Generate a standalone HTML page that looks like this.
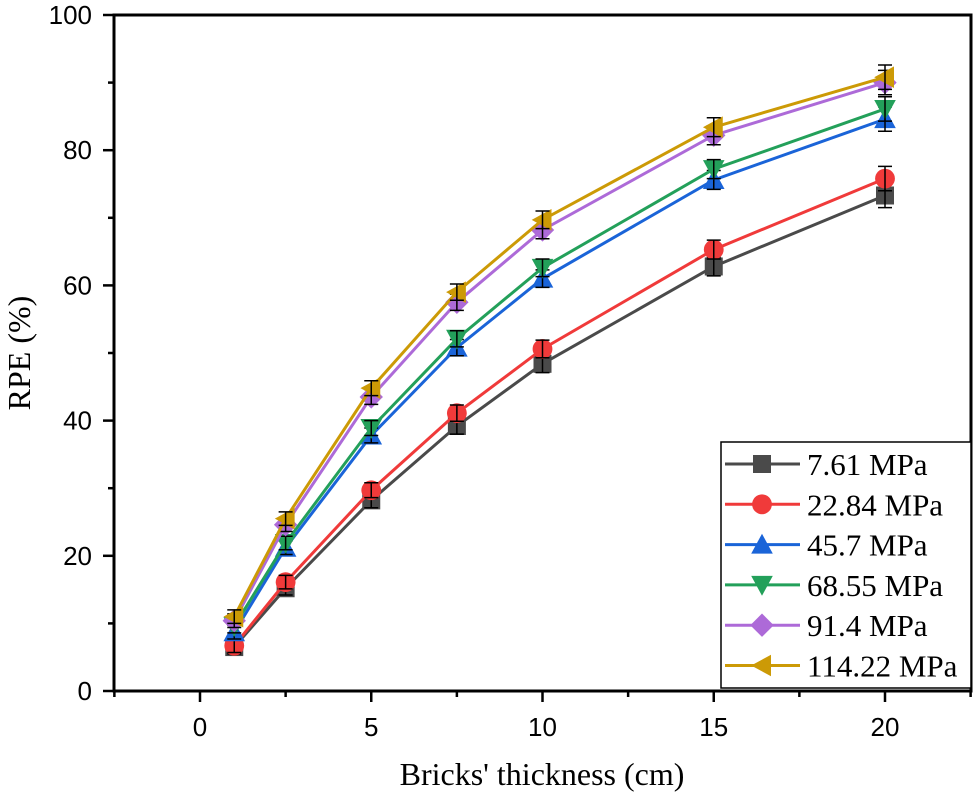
<!DOCTYPE html>
<html><head><meta charset="utf-8"><style>
html,body{margin:0;padding:0;background:#fff;}
svg{display:block;}
</style></head><body>
<svg id="chart" width="975" height="798" xmlns="http://www.w3.org/2000/svg"></svg>
<script>
const xValues=[1,2.5,5,7.5,10,15,20];
const seriesNames=["7.61 MPa","22.84 MPa","45.7 MPa","68.55 MPa","91.4 MPa","114.22 MPa"];
const s1=[6.5,15.2,28.2,39.2,48.4,62.8,73.3];
const s2=[6.7,16.1,29.7,41.1,50.6,65.3,75.8];
const s3=[8.7,21.2,37.8,50.8,61.0,75.6,84.6];
const s4=[9.6,21.9,38.9,52.1,62.6,77.2,86.1];
const s5=[10.4,24.6,43.5,57.5,68.2,82.2,90.0];
const s6=[11.0,25.5,44.8,59.0,69.7,83.4,90.8];
const errs=[1.0,1.0,1.1,1.2,1.3,1.4,1.8];
const xTicks=[0,5,10,15,20];
const yTicks=[0,20,40,60,80,100];
const series=[s1,s2,s3,s4,s5,s6];
const colors=["#4a4a4a","#f03a3a","#1a64d8","#23a05a","#ad6ad8","#cc9a06"];
const markers=["square","circle","up","down","diamond","left"];
const NS="http://www.w3.org/2000/svg";
const svg=document.getElementById('chart');
const L=114,R=971,T=15,B=691;
function X(v){return 200+(v-0)*34.25;}
function Y(v){return B-(v/100)*(B-T);}
function mk(tag,attrs,parent){const e=document.createElementNS(NS,tag);for(const k in attrs)e.setAttribute(k,attrs[k]);(parent||svg).appendChild(e);return e;}
function marker(type,cx,cy,s,col,parent){
  let e;
  if(type==="square")e=mk('rect',{x:cx-s,y:cy-s,width:2*s,height:2*s,fill:col},parent);
  else if(type==="circle")e=mk('circle',{cx:cx,cy:cy,r:s*1.1,fill:col},parent);
  else{
    let p;
    if(type==="up")p=[[cx,cy-s*1.2],[cx+s*1.2,cy+s],[cx-s*1.2,cy+s]];
    else if(type==="down")p=[[cx,cy+s*1.2],[cx+s*1.2,cy-s],[cx-s*1.2,cy-s]];
    else if(type==="diamond")p=[[cx,cy-s*1.3],[cx+s*1.3,cy],[cx,cy+s*1.3],[cx-s*1.3,cy]];
    else p=[[cx-s*1.2,cy],[cx+s,cy-s*1.2],[cx+s,cy+s*1.2]];
    e=mk('polygon',{points:p.map(q=>q.join(',')).join(' '),fill:col},parent);
  }
  return e;
}
const frame=mk('rect',{x:L,y:T,width:R-L,height:B-T,fill:'none',stroke:'#000','stroke-width':3});


for(let v=0;v<=100;v+=10){
  const major=v%20===0;
  const t=mk('line',{x1:L-(major?11:6),x2:L,y1:Y(v),y2:Y(v),stroke:'#000','stroke-width':2.5});
  
  
}
yTicks.forEach(v=>{
  const t=mk('text',{x:L-22,y:Y(v)+9,'text-anchor':'end','font-family':'Liberation Sans, sans-serif','font-size':26});
  t.textContent=v;
  
  
});
for(let v=-2.5;v<=22.5;v+=2.5){
  const major=Math.abs(v%5)<1e-9;
  const t=mk('line',{x1:X(v),x2:X(v),y1:B,y2:B+(major?11:6),stroke:'#000','stroke-width':2.5});
  
  
}
xTicks.forEach(v=>{
  const t=mk('text',{x:X(v),y:B+45,'text-anchor':'middle','font-family':'Liberation Sans, sans-serif','font-size':26});
  t.textContent=v;
  
  
});
const xt=mk('text',{x:542,y:785,'text-anchor':'middle','font-family':'Liberation Serif, serif','font-size':32});
xt.textContent="Bricks' thickness (cm)";


const yt=mk('text',{x:0,y:0,'text-anchor':'middle','font-family':'Liberation Serif, serif','font-size':32,transform:'translate(30,353) rotate(-90)'});
yt.textContent="RPE (%)";


series.forEach((d,i)=>{
  const g=mk('g',{});
  
  
  const pl=mk('polyline',{points:d.map((v,j)=>X(xValues[j])+','+Y(v)).join(' '),fill:'none',stroke:colors[i],'stroke-width':3},g);
  
  
  d.forEach((v,j)=>{
    const m=marker(markers[i],X(xValues[j]),Y(v),9,colors[i],g);
    
    
    const cx=X(xValues[j]),e=errs[j]*6.76;
    const eb=mk('path',{d:`M${cx},${Y(v)-e}V${Y(v)+e}M${cx-7},${Y(v)-e}H${cx+7}M${cx-7},${Y(v)+e}H${cx+7}`,stroke:'#000','stroke-width':1.5,fill:'none'},g);
    
    
  });
});
const lg=mk('g',{});


mk('rect',{x:721,y:442,width:250,height:246,fill:'#fff',stroke:'#000','stroke-width':1.5},lg);
seriesNames.forEach((n,i)=>{
  const y=464+i*40.3;
  const e=mk('g',{},lg);
  
  
  mk('line',{x1:725,x2:800,y1:y,y2:y,stroke:colors[i],'stroke-width':3},e);
  marker(markers[i],762,y,9,colors[i],e);
  const t=mk('text',{x:807,y:y+11,'font-family':'Liberation Serif, serif','font-size':31},e);
  t.textContent=n;
});
</script>
</body></html>
